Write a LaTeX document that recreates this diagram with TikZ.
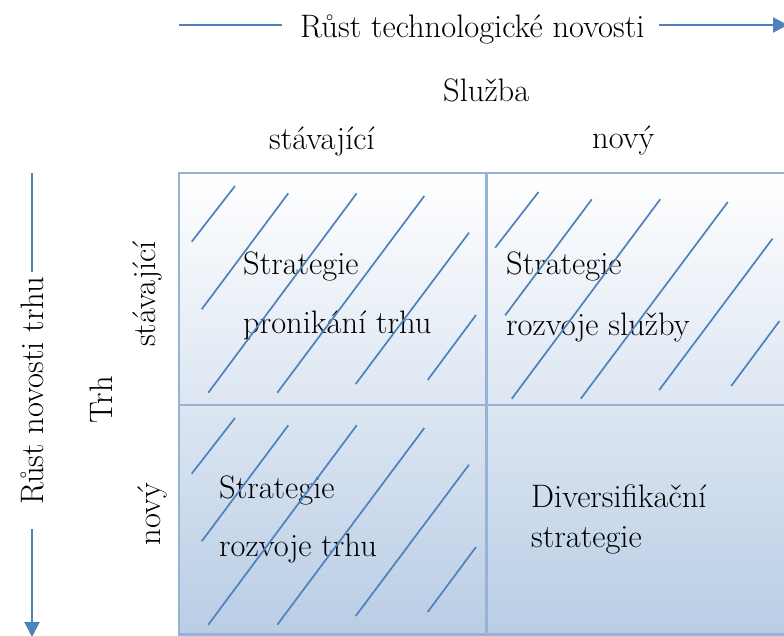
\documentclass[tikz,border=0pt]{standalone}
\usetikzlibrary{arrows.meta}

\definecolor{lineblue}{HTML}{4F81BD}
\definecolor{gridblue}{HTML}{95B3D7}
\definecolor{cellblue}{HTML}{B9CDE5}

\tikzset{
  txt/.style={inner sep=0pt, font=\rmfamily\fontsize{32.5}{39}\selectfont, text=black},
  axisline/.style={draw=lineblue, line width=2pt},
  axisarrow/.style={axisline, -{Triangle[length=15pt,width=15pt]}},
  hatchline/.style={draw=lineblue, line width=1.7pt},
  gridline/.style={draw=gridblue, line width=2.5pt},
}

% six diagonal hatch strokes of one quadrant, relative to its top-left corner
\newcommand{\quadhatch}{%
  \draw[hatchline] (12.7,68.7) -- (56,13);
  \draw[hatchline] (22.7,136.3) -- (109.3,20.3);
  \draw[hatchline] (29.3,219.7) -- (177.7,20.3);
  \draw[hatchline] (98.3,219.7) -- (245.3,23);
  \draw[hatchline] (176.7,211) -- (290,59.7);
  \draw[hatchline] (248.7,207) -- (297,142);
}

\begin{document}
\begin{tikzpicture}[x=1pt,y=-1pt]
\useasboundingbox (0,0) rectangle (784,636);
\clip (0,0) rectangle (784,636);

% matrix background with gradient
\shade[top color=white, bottom color=cellblue] (179,173) rectangle (800,634.5);

% axis headings
\node[txt, anchor=base west] (techtitle) at (300,37.5) {Růst technologické novosti};
\node[txt, anchor=base west] (sluzba) at (443,101.5) {Služba};
\node[txt, anchor=base west] (colold) at (269,150) {stávající};
\node[txt, anchor=base west] (colnew) at (592,149) {nový};

\node[txt, anchor=base, rotate=90] (trhtitle) at (43,391) {Růst novosti trhu};
\node[txt, anchor=base, rotate=90] (trh) at (112,400) {Trh};
\node[txt, anchor=base, rotate=90] (rowold) at (155,294) {stávající};
\node[txt, anchor=base, rotate=90] (rownew) at (160,514) {nový};

% axis arrows
\coordinate (h1) at (179,25);
\coordinate (h2) at (282,25);
\coordinate (h3) at (659,25);
\coordinate (h4) at (788,25);
\draw[axisline] (h1) -- (h2);
\draw[axisarrow] (h3) -- (h4);

\coordinate (v1) at (32,173);
\coordinate (v2) at (32,272);
\coordinate (v3) at (32,529);
\coordinate (v4) at (32,637);
\draw[axisline] (v1) -- (v2);
\draw[axisarrow] (v3) -- (v4);

% quadrant texts
\node[txt, anchor=base west] (q1a) at (243,275) {Strategie};
\node[txt, anchor=base west] (q1b) at (243,333) {pronikání trhu};
\node[txt, anchor=base west] (q2a) at (506,275) {Strategie};
\node[txt, anchor=base west] (q2b) at (506,335) {rozvoje služby};
\node[txt, anchor=base west] (q3a) at (219,498) {Strategie};
\node[txt, anchor=base west] (q3b) at (219,556) {rozvoje trhu};
\node[txt, anchor=base west] (q4a) at (531,507) {Diversifikační};
\node[txt, anchor=base west] (q4b) at (531,547) {strategie};

% hatching of the three strategy quadrants
\begin{scope}[shift={(179,173)}]\quadhatch\end{scope}
\begin{scope}[shift={(482.5,179)}]\quadhatch\end{scope}
\begin{scope}[shift={(179,405)}]\quadhatch\end{scope}

% matrix grid
\draw[gridline] (179,173) rectangle (800,634.5);
\draw[gridline] (486.5,173) -- (486.5,634.5);
\draw[gridline] (179,405) -- (800,405);
\end{tikzpicture}
\end{document}
